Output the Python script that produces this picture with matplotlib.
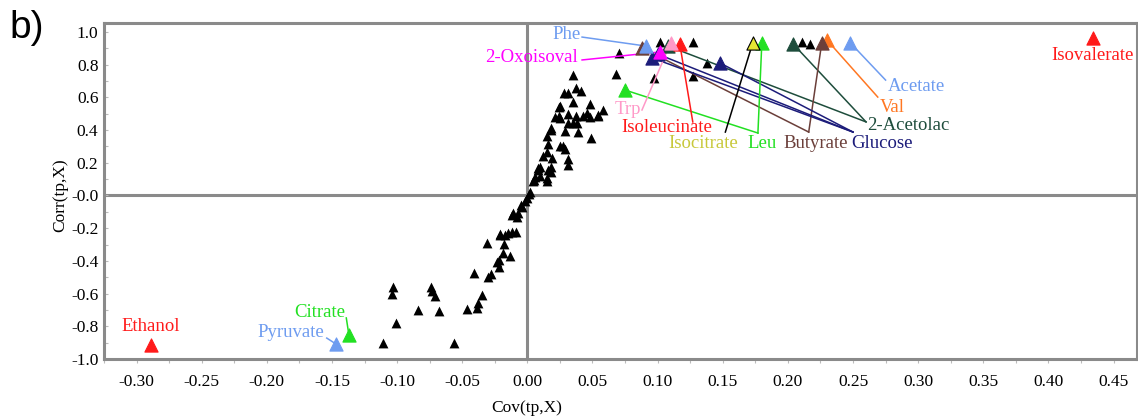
import matplotlib
matplotlib.use("Agg")
import matplotlib.pyplot as plt
import numpy as np

# ---------------------------------------------------------------------------
# Data
# ---------------------------------------------------------------------------
black_x = [-0.103, -0.104, -0.074, -0.073, -0.071, -0.084, -0.068, -0.101, -0.111, -0.056,
           -0.041, -0.031, -0.046, -0.039, -0.038, -0.035, -0.030, -0.028, -0.022, -0.022,
           -0.019, -0.013, -0.018, -0.021, -0.017, -0.012, -0.009, -0.012, -0.008, -0.007,
           -0.005, -0.004, -0.002, 0.002, -0.021, -0.015, -0.023, -0.011,
           0.035, 0.068, 0.028, 0.031, 0.037, 0.041, 0.035, 0.025, 0.048, 0.058,
           0.054, 0.021, 0.024, 0.025, 0.031, 0.037, 0.043, 0.046, 0.048, 0.031,
           0.035, 0.039, 0.029, 0.018, 0.049, 0.015, 0.027, 0.029, 0.016, 0.015,
           0.012, 0.019, 0.031, 0.031, 0.010, 0.008, 0.016, 0.018, 0.006, 0.010,
           0.015, 0.004, 0.001, 0.000, 0.024, 0.054, 0.038, 0.018, 0.025, 0.008,
           0.018, 0.015, 0.005,
           0.070, 0.097, 0.127, 0.138, 0.127, 0.102, 0.211, 0.217]
black_y = [-0.560, -0.602, -0.560, -0.584, -0.615, -0.700, -0.706, -0.780, -0.902, -0.902,
           -0.474, -0.291, -0.694, -0.688, -0.657, -0.609, -0.498, -0.480, -0.437, -0.394,
           -0.352, -0.370, -0.297, -0.242, -0.242, -0.223, -0.223, -0.119, -0.131, -0.107,
           -0.058, -0.070, -0.034, 0.021, -0.235, -0.229, -0.407, -0.107,
           0.737, 0.743, 0.627, 0.627, 0.657, 0.639, 0.572, 0.547, 0.560, 0.523,
           0.486, 0.480, 0.486, 0.474, 0.498, 0.486, 0.486, 0.505, 0.480, 0.443,
           0.443, 0.388, 0.394, 0.413, 0.352, 0.364, 0.303, 0.284, 0.315, 0.266,
           0.242, 0.229, 0.223, 0.187, 0.174, 0.156, 0.156, 0.174, 0.113, 0.119,
           0.089, 0.089, 0.009, -0.015, 0.541, 0.492, 0.443, 0.401, 0.303, 0.168,
           0.144, 0.107, 0.095,
           0.872, 0.719, 0.731, 0.810, 0.939, 0.939, 0.939, 0.927]

met_names = ["Isovalerate", "Ethanol", "Pyruvate", "Citrate", "Acetate", "Val",
             "2-Acetolac", "2-Acetolac", "Butyrate", "Butyrate",
             "Glucose", "Glucose", "Glucose", "Leu", "Leu", "Isocitrate",
             "Isoleucinate", "Trp", "Phe", "2-Oxoisoval"]
met_x = [0.434, -0.289, -0.147, -0.137, 0.248, 0.230,
         0.204, 0.108, 0.226, 0.088,
         0.148, 0.096, 0.100, 0.180, 0.075, 0.173,
         0.117, 0.110, 0.091, 0.102]
met_y = [0.963, -0.914, -0.908, -0.853, 0.933, 0.951,
         0.927, 0.914, 0.933, 0.902,
         0.810, 0.841, 0.865, 0.933, 0.645, 0.933,
         0.927, 0.933, 0.914, 0.878]

xticks = [-0.30, -0.25, -0.20, -0.15, -0.10, -0.05, 0.00, 0.05, 0.10,
          0.15, 0.20, 0.25, 0.30, 0.35, 0.40, 0.45]
xtick_labels = ["-0.30", "-0.25", "-0.20", "-0.15", "-0.10", "-0.05", "0.00", "0.05",
                "0.10", "0.15", "0.20", "0.25", "0.30", "0.35", "0.40", "0.45"]
yticks = [-1.0, -0.8, -0.6, -0.4, -0.2, 0.0, 0.2, 0.4, 0.6, 0.8, 1.0]
ytick_labels = ["-1.0", "-0.8", "-0.6", "-0.4", "-0.2", "-0.0",
                "0.2", "0.4", "0.6", "0.8", "1.0"]

# ---------------------------------------------------------------------------
# Label styling: colour, text anchor (x, y, ha) and leader-line junction
# ---------------------------------------------------------------------------
colours = {
    "Isovalerate": "#ff1a1a", "Ethanol": "#ff1a1a", "Pyruvate": "#6e9cf0",
    "Citrate": "#22e022", "Acetate": "#6e9cf0", "Val": "#ff7722",
    "2-Acetolac": "#1e4d3c", "Butyrate": "#6b3f3a", "Glucose": "#1c1c7a",
    "Leu": "#22e022", "Isocitrate": "#e6e633", "Isoleucinate": "#ff1a1a",
    "Trp": "#ff99c8", "Phe": "#6e9cf0", "2-Oxoisoval": "#ff00ff",
}
text_colours = dict(colours, Isocitrate="#c8c83a")
line_colours = dict(colours, Isocitrate="black")

label_pos = {
    "Isovalerate": (0.434, 0.856, "center"),
    "Ethanol": (-0.289, -0.804, "center"),
    "Pyruvate": (-0.156, -0.835, "right"),
    "Citrate": (-0.159, -0.713, "center"),
    "Acetate": (0.299, 0.664, "center"),
    "Val": (0.280, 0.541, "center"),
    "2-Acetolac": (0.261, 0.431, "left"),
    "Glucose": (0.249, 0.315, "left"),
    "Butyrate": (0.221, 0.315, "center"),
    "Leu": (0.180, 0.315, "center"),
    "Isocitrate": (0.135, 0.315, "center"),
    "Isoleucinate": (0.107, 0.413, "center"),
    "Trp": (0.077, 0.529, "center"),
    "Phe": (0.041, 0.982, "right"),
    "2-Oxoisoval": (0.039, 0.841, "right"),
}
junction = {
    "Pyruvate": (-0.154, -0.872), "Citrate": (-0.139, -0.749),
    "Acetate": (0.275, 0.706), "Val": (0.269, 0.602),
    "2-Acetolac": (0.260, 0.450), "Glucose": (0.250, 0.388),
    "Butyrate": (0.216, 0.388), "Leu": (0.177, 0.382),
    "Isocitrate": (0.152, 0.388), "Isoleucinate": (0.127, 0.450),
    "Trp": (0.088, 0.523), "Phe": (0.042, 0.969),
    "2-Oxoisoval": (0.042, 0.829),
}

plt.rcParams["axes.unicode_minus"] = False
serif = ["Liberation Serif", "DejaVu Serif"]
grey = "#8a8a8a"

fig = plt.figure(figsize=(11.38, 4.19), dpi=100)
ax = fig.add_axes([0.0914, 0.1432, 0.9077, 0.8019])

ax.axhline(0, color=grey, lw=2.2, zorder=1)
ax.axvline(0, color=grey, lw=2.2, zorder=1)

ax.scatter(black_x, black_y, marker="^", s=50, color="black", linewidths=0, zorder=3)

# leader lines
for name, x, y in zip(met_names, met_x, met_y):
    if name in junction:
        jx, jy = junction[name]
        ax.plot([jx, x], [jy, y], color=line_colours[name], lw=1.1, zorder=4)

# coloured markers
for name, x, y in zip(met_names, met_x, met_y):
    edge = "black" if name == "Isocitrate" else colours[name]
    ax.scatter([x], [y], marker="^", s=90, color=colours[name], edgecolors=edge,
               linewidths=0.8, zorder=5)

for name, (tx, ty, ha) in label_pos.items():
    ax.text(tx, ty, name, color=text_colours[name], ha=ha, va="center",
            fontsize=13.5, family=serif, zorder=6)

ax.set_xlim(-0.3246, 0.468)
ax.set_ylim(-1.0, 1.055)
ax.set_xticks(xticks)
ax.set_xticklabels(xtick_labels, family=serif, fontsize=12.5)
ax.set_yticks(yticks)
ax.set_yticklabels(ytick_labels, family=serif, fontsize=12.5)
ax.set_xticks(np.arange(-0.325, 0.47, 0.025), minor=True)
ax.set_yticks(np.arange(-1.0, 1.05, 0.1), minor=True)
ax.tick_params(axis="x", which="both", direction="out", length=3, width=0.8,
               color="#bbbbbb", pad=8)
ax.tick_params(axis="y", which="both", direction="in", length=3, width=0.8,
               color="#bbbbbb", pad=4)

for sp in ax.spines.values():
    sp.set_color(grey)
    sp.set_linewidth(2.2)

fig.text(0.463, 0.026, "Cov(tp,X)", ha="center", va="center", fontsize=12.5, family=serif)
fig.text(0.053, 0.535, "Corr(tp,X)", ha="center", va="center", rotation=90,
         fontsize=12.5, family=serif)
fig.text(0.008, 0.975, "b)", ha="left", va="top", fontsize=28,
         family=["Liberation Sans", "DejaVu Sans"])

fig.savefig("out.png", dpi=100)
